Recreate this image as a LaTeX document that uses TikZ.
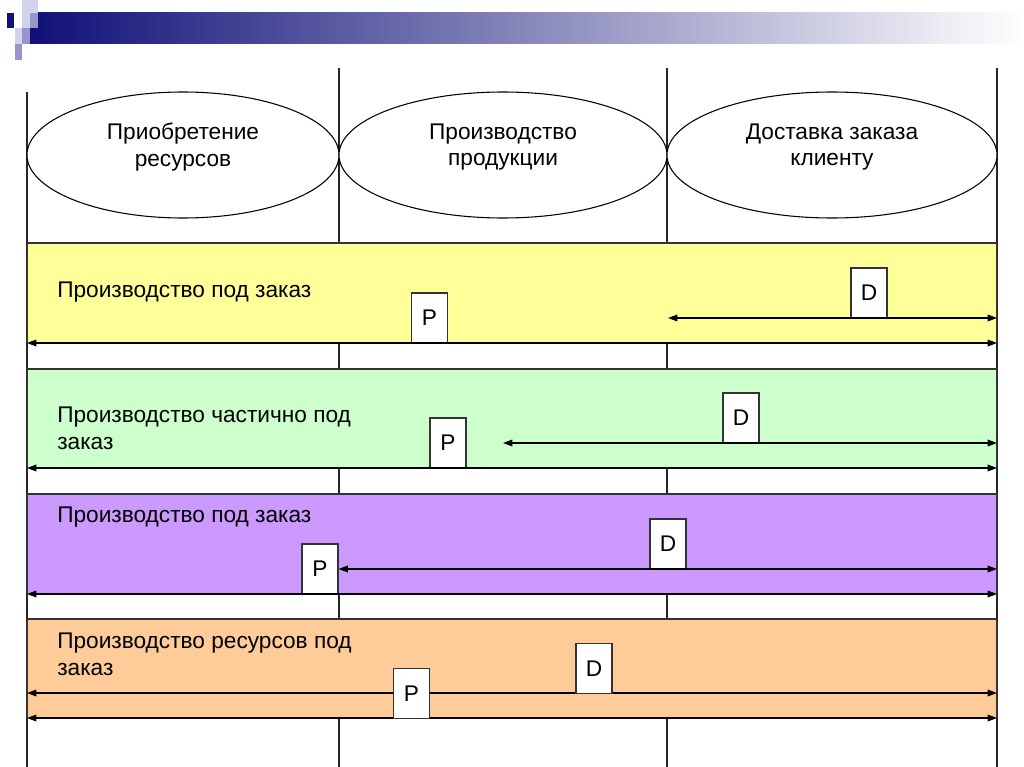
\documentclass[tikz,border=0pt]{standalone}
\usepackage{fontspec}
\setmainfont{Liberation Sans}
\usetikzlibrary{arrows.meta,shapes.geometric}
\definecolor{navy}{RGB}{16,16,120}
\definecolor{sqlight}{RGB}{210,210,235}
\definecolor{sqmid}{RGB}{150,150,205}
\definecolor{bandyellow}{RGB}{255,255,153}
\definecolor{bandgreen}{RGB}{204,255,204}
\definecolor{bandpurple}{RGB}{204,153,255}
\definecolor{bandorange}{RGB}{255,204,153}
\tikzset{
  lane/.style={draw=black!85, line width=0.8pt},
  phase/.style={ellipse, draw=black, line width=0.8pt, fill=white, inner sep=0pt},
  phasetext/.style={align=center, font=\fontsize{17}{20}\selectfont, inner sep=0pt},
  band/.style={draw=black!80, line width=0.8pt},
  bandtext/.style={anchor=west, align=left, font=\fontsize{17}{20}\selectfont, inner sep=0pt},
  marker/.style={draw=black!80, line width=0.8pt, fill=white, minimum width=27pt, minimum height=37.5pt, inner sep=0pt, font=\fontsize{17}{18}\selectfont},
  span/.style={line width=0.9pt, {Triangle[length=7pt,width=5pt]}-{Triangle[length=7pt,width=5pt]}},
}
\begin{document}
\begin{tikzpicture}[x=0.75pt,y=-0.75pt]
\useasboundingbox (0,0) rectangle (1024,767);
% header decoration
\shade[left color=navy, right color=white] (30,13) rectangle (1024,44);
\fill[sqlight] (22,0) rectangle (38,28);
\fill[sqmid] (30,13) rectangle (38,28);
\fill[sqlight] (15,28) rectangle (30,44);
\fill[sqmid] (22,28) rectangle (30,44);
\fill[sqmid] (15,44) rectangle (22,60);
\fill[navy] (7,13) rectangle (14,28);
% lanes
\coordinate (l0t) at (27,92);   \coordinate (l0b) at (27,767);
\coordinate (l1t) at (339,68);  \coordinate (l1b) at (339,767);
\coordinate (l2t) at (667,68);  \coordinate (l2b) at (667,767);
\coordinate (l3t) at (997,68);  \coordinate (l3b) at (997,767);
\draw[lane] (l0t) -- (l0b);
\draw[lane] (l1t) -- (l1b);
\draw[lane] (l2t) -- (l2b);
\draw[lane] (l3t) -- (l3b);
% phases
\node[phase, minimum width=234pt, minimum height=94.5pt] (ph1) at (183,155) {};
\node[phase, minimum width=246pt, minimum height=94.5pt] (ph2) at (503,155) {};
\node[phase, minimum width=247.5pt, minimum height=94.5pt] (ph3) at (832,155) {};
\node[phasetext] (pt1) at (183,147) {Приобретение\\ресурсов};
\node[phasetext] (pt2) at (503,147) {Производство\\продукции};
\node[phasetext] (pt3) at (832,147) {Доставка заказа\\клиенту};
% bands
\fill[bandyellow] (27,243) rectangle (997,343);
\draw[band] (27,343) |- (997,243) -- (997,343);
\fill[bandgreen] (27,369) rectangle (997,468);
\draw[band] (27,468) |- (997,369) -- (997,468);
\fill[bandpurple] (27,494) rectangle (997,594);
\draw[band] (27,594) |- (997,494) -- (997,594);
\fill[bandorange] (27,619) rectangle (997,718);
\draw[band] (27,718) |- (997,619) -- (997,718);
% band 1
\node[bandtext] (t1) at (57,292) {Производство под заказ};
\node[marker] (p1) at (429.5,318) {P};
\node[marker] (d1) at (869,293) {D};
\coordinate (a1l) at (27,343); \coordinate (a1r) at (997,343);
\coordinate (b1l) at (668,318); \coordinate (b1r) at (997,318);
\draw[span] (a1l) -- (a1r);
\draw[span] (b1l) -- (b1r);
% band 2
\node[bandtext] (t2) at (57,428) {Производство частично под\\заказ};
\node[marker] (p2) at (448,443) {P};
\node[marker] (d2) at (741,418) {D};
\coordinate (a2l) at (27,468); \coordinate (a2r) at (997,468);
\coordinate (b2l) at (503,443); \coordinate (b2r) at (997,443);
\draw[span] (a2l) -- (a2r);
\draw[span] (b2l) -- (b2r);
% band 3
\node[bandtext] (t3) at (57,517) {Производство под заказ};
\node[marker] (p3) at (320,569) {P};
\node[marker] (d3) at (668,544) {D};
\coordinate (a3l) at (27,594); \coordinate (a3r) at (997,594);
\coordinate (b3r) at (997,569);
\draw[span] (a3l) -- (a3r);
\draw[span] (p3.east) -- (b3r);
% band 4
\node[bandtext] (t4) at (57,654) {Производство ресурсов под\\заказ};
\coordinate (a4l) at (27,718); \coordinate (a4r) at (997,718);
\coordinate (b4l) at (27,693); \coordinate (b4r) at (997,693);
\draw[span] (a4l) -- (a4r);
\draw[span] (b4l) -- (b4r);
\node[marker] (p4) at (411.5,693.5) {P};
\node[marker] (d4) at (594,668.5) {D};
\end{tikzpicture}
\end{document}
